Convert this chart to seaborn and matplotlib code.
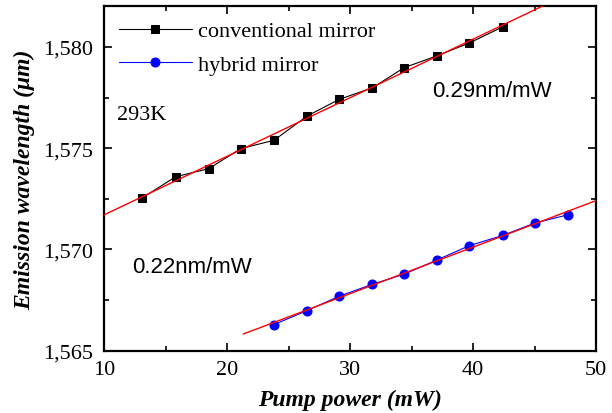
import numpy as np
import matplotlib
matplotlib.use("Agg")
import matplotlib.pyplot as plt
import seaborn as sns
from matplotlib.ticker import MultipleLocator, FuncFormatter

sns.set_style("ticks")
plt.rcParams['font.family'] = ['Liberation Serif', 'DejaVu Serif']
for key in ['text.color', 'axes.labelcolor', 'xtick.color', 'ytick.color', 'axes.edgecolor']:
    plt.rcParams[key] = 'black'

# pump power (mW) and emission wavelength (um)
conv_power = [13.1, 15.8, 18.5, 21.1, 23.8, 26.5, 29.1, 31.8, 34.4, 37.1, 39.7, 42.4]
conv_wl = [1.57255, 1.57359, 1.57399, 1.57498, 1.57539, 1.57659,
           1.57741, 1.57798, 1.57898, 1.57957, 1.58020, 1.58099]

hyb_power = [23.8, 26.5, 29.1, 31.8, 34.4, 37.1, 39.7, 42.4, 45.0, 47.7]
hyb_wl = [1.56629, 1.56698, 1.56769, 1.56828, 1.56878, 1.56949,
          1.57019, 1.57069, 1.57130, 1.57171]

# extent of the red linear fits
conv_fit_range = (10.0, 47.0)
hyb_fit_range = (21.3, 50.0)

fig, ax = plt.subplots(figsize=(6.12, 4.14), dpi=100)
fig.subplots_adjust(left=0.1704, right=0.974, top=0.982, bottom=0.1505)

sns.lineplot(x=conv_power, y=conv_wl, ax=ax, color='black', linewidth=0.8,
             marker='s', markersize=6, markeredgecolor='black',
             label='conventional mirror')
sns.lineplot(x=hyb_power, y=hyb_wl, ax=ax, color='blue', linewidth=0.8,
             marker='o', markersize=6.5, markeredgecolor='blue',
             label='hybrid mirror')

# linear fits
for px, py, rng in [(conv_power, conv_wl, conv_fit_range),
                    (hyb_power, hyb_wl, hyb_fit_range)]:
    k, b = np.polyfit(px, py, 1)
    xx = np.array(rng)
    ax.plot(xx, k * xx + b, color='red', linewidth=1.0, zorder=5)

ax.set_xlim(10, 50)
ax.set_ylim(1.565, 1.582)
ax.xaxis.set_major_locator(MultipleLocator(10))
ax.xaxis.set_minor_locator(MultipleLocator(5))
ax.yaxis.set_major_locator(MultipleLocator(0.005))
ax.yaxis.set_minor_locator(MultipleLocator(0.0025))
ax.yaxis.set_major_formatter(FuncFormatter(lambda v, p: f"{v:.3f}".replace('.', ',')))

ax.tick_params(which='both', direction='in', top=True, right=True, labelsize=16, width=1.2)
ax.tick_params(which='major', length=5.5)
ax.tick_params(which='minor', length=3.5)
ax.tick_params(axis='x', pad=7)
ax.tick_params(axis='y', pad=8)
for s in ax.spines.values():
    s.set_linewidth(1.6)

ax.set_xlabel('Pump power (mW)', fontsize=17, fontweight='bold', fontstyle='italic', labelpad=7)
ax.set_ylabel('Emission wavelength (μm)', fontsize=17, fontweight='bold', fontstyle='italic', labelpad=6)

ax.text(0.025, 0.687, '293K', transform=ax.transAxes, fontsize=16, va='center')
ax.text(0.666, 0.755, '0.29nm/mW', transform=ax.transAxes, fontsize=16,
        va='center', family='Liberation Sans')
ax.text(0.056, 0.246, '0.22nm/mW', transform=ax.transAxes, fontsize=16,
        va='center', family='Liberation Sans')

ax.legend(loc='upper left', frameon=False, fontsize=16, handlelength=3.3,
          handletextpad=0.27, labelspacing=0.58, borderaxespad=0.25,
          bbox_to_anchor=(0.0, 1.0))

fig.savefig('out.png', dpi=100)
